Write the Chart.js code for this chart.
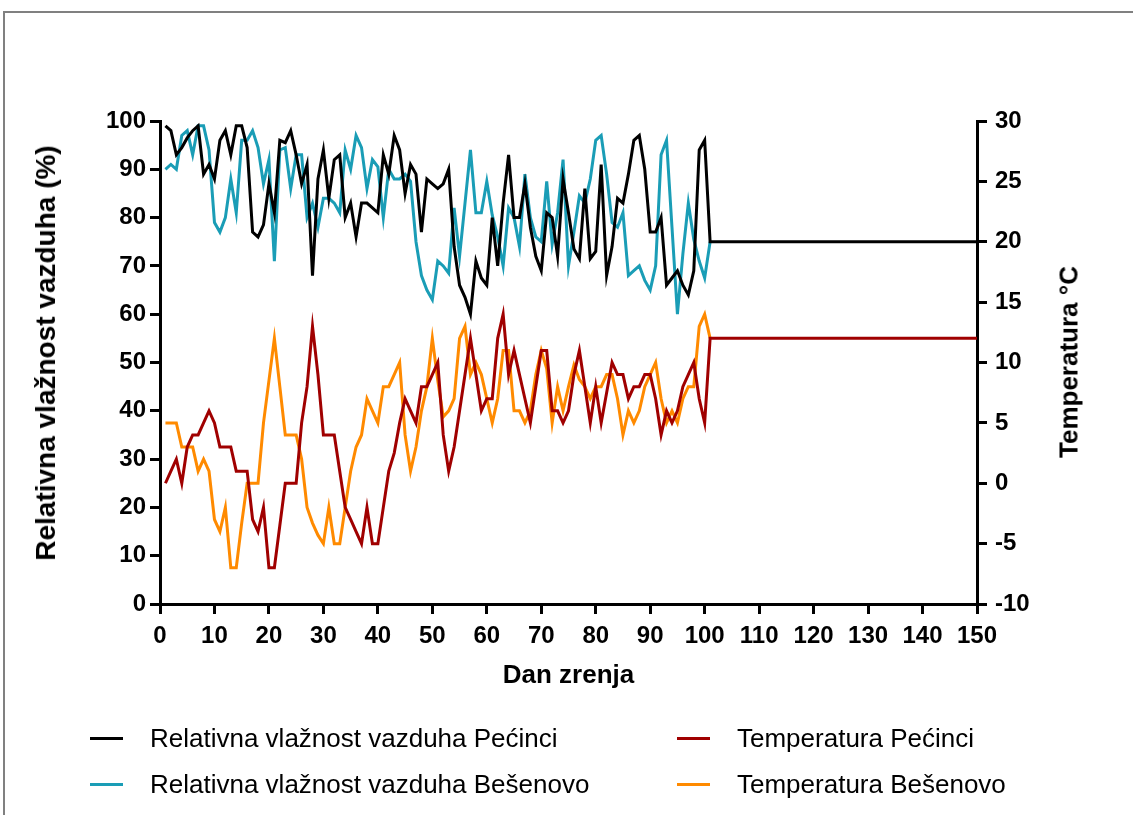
<!DOCTYPE html>
<html>
<head>
<meta charset="utf-8">
<script src="https://cdn.jsdelivr.net/npm/chart.js@4.4.1/dist/chart.umd.min.js"></script>
<style>
  html, body { margin: 0; padding: 0; background: #fff; }
  #wrap { position: relative; width: 1133px; height: 815px; overflow: hidden; }
  #frame { position: absolute; left: 3px; top: 11px; width: 1200px; height: 900px; border-left: 2px solid #808080; border-top: 2px solid #808080; }
  canvas { position: absolute; left: 0; top: 0; }
  .vt { position: absolute; transform: translate(-50%, -50%) rotate(-90deg);
    font: bold 26px "Liberation Sans", Arial, sans-serif; white-space: nowrap; color: #000; }
  #leftTitle { left: 46px; top: 353px; font-size: 28px; }
  #rightTitle { left: 1069px; top: 362px; }
  .lg { position: absolute; height: 30px; display: flex; align-items: center;
    font: 26px "Liberation Sans", Arial, sans-serif; color: #000; white-space: nowrap; }
  .lg span.ln { display: inline-block; width: 33px; height: 3px; margin-right: 27px; }
</style>
</head>
<body>
<div id="wrap">
  <div id="frame"></div>
  <canvas id="chart" width="1133" height="815"></canvas>
  <div id="leftTitle" class="vt">Relativna vlažnost vazduha (%)</div>
  <div id="rightTitle" class="vt">Temperatura °C</div>
  <div id="legend"></div>
</div>
<script>
// dani mjerenja (zadnja tocka 150 = produzena linija)
const days = [
  1, 2, 3, 4, 5, 6, 7, 8, 9, 10, 11, 12, 13, 14, 15, 16, 17, 18, 19, 20,
  21, 22, 23, 24, 25, 26, 27, 28, 29, 30, 31, 32, 33, 34, 35, 36, 37, 38, 39, 40,
  41, 42, 43, 44, 45, 46, 47, 48, 49, 50, 51, 52, 53, 54, 55, 56, 57, 58, 59, 60,
  61, 62, 63, 64, 65, 66, 67, 68, 69, 70, 71, 72, 73, 74, 75, 76, 77, 78, 79, 80,
  81, 82, 83, 84, 85, 86, 87, 88, 89, 90, 91, 92, 93, 94, 95, 96, 97, 98, 99, 100,
  101, 150
];

// relativna vlaznost (%)
const humPecinci = [
  99, 98, 93, 94.5, 96.5, 98, 99, 89, 91, 88, 96, 98, 93, 99, 99, 94.5, 77, 76, 78.5, 87,
  81, 96, 95.5, 98, 93, 87, 91, 68, 88, 94, 84, 92, 93, 80, 83, 76, 83, 83, 82, 81,
  93, 89, 97, 94, 85, 91, 89, 77, 88, 87, 86, 87, 90, 74, 66, 63.5, 60, 71, 67.5, 66,
  80, 70, 83, 93, 80, 80, 87, 78, 72, 69, 81, 80, 72, 88, 81, 73.5, 71.5, 86, 71.5, 73,
  91, 68, 74, 84, 83, 89, 96, 97, 90, 77, 77, 80, 66, 67.5, 69, 66, 64, 69, 94, 96,
  75, 75
];
const humBesenovo = [
  90, 91, 90, 97, 98, 93, 99, 99, 94, 79, 77, 80, 88, 81, 96, 96, 98, 94.5, 87, 92,
  71, 94, 94.5, 86, 93, 93, 80, 83, 78, 84, 84, 83, 81, 94, 90, 97, 94.5, 86, 92, 90.5,
  80, 90, 88, 88, 89, 87.5, 75, 68, 65, 63, 71, 70, 68.5, 82, 72, 83, 94, 81, 81, 87.5,
  80.5, 76, 70, 82, 80, 74, 89, 80, 76, 75, 87.5, 74.5, 81, 92, 70, 77, 84.5, 83, 88, 96,
  97, 89, 79, 78, 81, 68, 69, 70, 67, 65, 70, 93, 96, 78, 60, 72.5, 83, 75.5, 71, 67.5,
  75, null
];

// temperatura (°C)
const tempPecinci = [
  0, 1, 2, 0, 3, 4, 4, 5, 6, 5, 3, 3, 3, 1, 1, 1, -3, -4, -2, -7,
  -7, -3.5, 0, 0, 0, 5, 8, 13, 9, 4, 4, 4, 1, -2, -3, -4, -5, -2, -5, -5,
  -2, 1, 2.5, 5, 7, 6, 5, 8, 8, 9, 10, 4, 1, 3, 6, 9, 12, 9, 6, 7,
  7, 12, 14, 9, 11, 9, 7, 5, 8, 11, 11, 6, 6, 5, 6, 9, 11, 8, 5, 8,
  5, 7.5, 10, 9, 9, 7, 8, 8, 9, 9, 7, 4, 6, 5, 6, 8, 9, 10, 7, 5,
  12, 12
];
const tempBesenovo = [
  5, 5, 5, 3, 3, 3, 1, 2, 1, -3, -4, -2, -7, -7, -3.3, 0, 0, 0, 5, 8.5,
  12, 8, 4, 4, 4, 2, -2, -3.3, -4.3, -5, -2, -5, -5, -2, 1, 3, 4, 7, 6, 5,
  8, 8, 9, 10, 4, 1, 3, 6, 8, 12, 8.5, 5.5, 6, 7, 12, 13, 9, 10, 9, 7,
  5, 7, 11, 11, 6, 6, 5, 6, 9, 11, 9.5, 5, 8, 6, 8, 9.8, 8.6, 8, 7, 8,
  8, 9, 9, 7, 4, 6, 5, 6, 8, 9, 10, 7, 5, 6, 5, 7, 8, 8, 13, 14,
  12, null
];

const seriesNames = [
  "Relativna vlažnost vazduha Pećinci",
  "Temperatura Pećinci",
  "Relativna vlažnost vazduha Bešenovo",
  "Temperatura Bešenovo"
];
const seriesColors = ["#000000", "#a00000", "#1a9db6", "#ff8a00"];

const FONT = '"Liberation Sans", Arial, sans-serif';

function pts(vals) {
  return days.map((d, i) => ({ x: d, y: vals[i] }));
}

function mkSet(i, vals, axis) {
  return {
    label: seriesNames[i],
    data: pts(vals),
    yAxisID: axis,
    borderColor: seriesColors[i],
    backgroundColor: seriesColors[i],
    borderWidth: 3,
    pointRadius: 0,
    tension: 0,
    fill: false
  };
}

const tickFont = { family: FONT, size: 24, weight: 'bold' };
const axisGrid = { drawOnChartArea: false, drawTicks: true, tickLength: 10, color: '#000', lineWidth: 3 };

const ctx = document.getElementById('chart').getContext('2d');

const chart = new Chart(ctx, {
  type: 'line',
  data: {
    datasets: [
      mkSet(0, humPecinci, 'y'),
      mkSet(1, tempPecinci, 'y1'),
      mkSet(2, humBesenovo, 'y'),
      mkSet(3, tempBesenovo, 'y1')
    ]
  },
  options: {
    responsive: false,
    animation: false,
    layout: { padding: { top: 121, left: 0, right: 0, bottom: 0 } },
    plugins: { legend: { display: false }, tooltip: { enabled: false } },
    scales: {
      x: {
        type: 'linear', min: 0, max: 150,
        afterFit: s => { s.height = 211; },
        border: { color: '#000', width: 3 },
        grid: axisGrid,
        ticks: { stepSize: 10, padding: 8, color: '#000', font: tickFont, maxRotation: 0 },
        title: { display: true, text: 'Dan zrenja', color: '#000', padding: { top: 0, bottom: 124 },
          font: { family: FONT, size: 26, weight: 'bold' } }
      },
      y: {
        position: 'left', min: 0, max: 100,
        afterFit: s => { s.width = 160; },
        border: { color: '#000', width: 3 },
        grid: axisGrid,
        ticks: { stepSize: 10, padding: 4, color: '#000', font: tickFont }
      },
      y1: {
        position: 'right', min: -10, max: 30,
        afterFit: s => { s.width = 156; },
        border: { color: '#000', width: 3 },
        grid: axisGrid,
        ticks: { stepSize: 5, padding: 8, color: '#000', font: tickFont }
      }
    }
  }
});

// legenda 2x2 kao u originalu
const legendPos = [
  { left: 90, top: 723 },
  { left: 677, top: 723 },
  { left: 90, top: 769 },
  { left: 677, top: 769 }
];
const legendEl = document.getElementById('legend');
chart.data.datasets.forEach(function (ds, i) {
  const item = document.createElement('div');
  item.className = 'lg';
  item.style.left = legendPos[i].left + 'px';
  item.style.top = legendPos[i].top + 'px';
  item.innerHTML = '<span class="ln" style="background:' + ds.borderColor + '"></span>' + ds.label;
  legendEl.appendChild(item);
});
</script>
</body>
</html>
